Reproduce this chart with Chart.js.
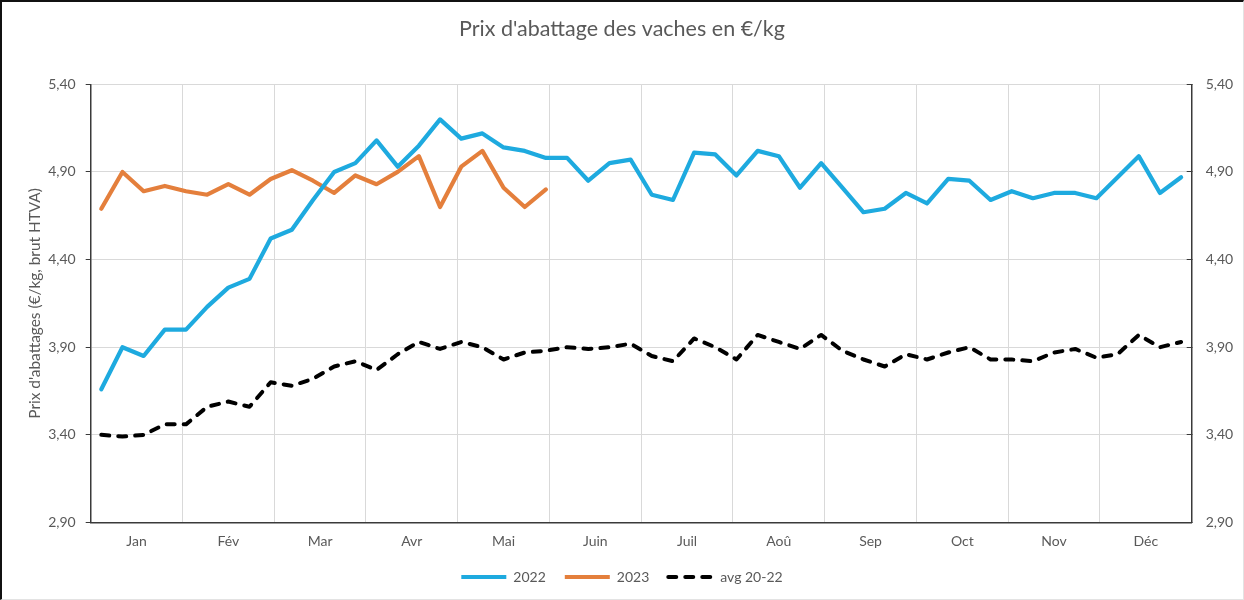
<!DOCTYPE html>
<html>
<head>
<meta charset="utf-8">
<script src="https://cdn.jsdelivr.net/npm/chart.js@4/dist/chart.umd.min.js"></script>
<style>
  html, body { margin: 0; padding: 0; background: #fff; }
  #wrap { position: relative; width: 1244px; height: 600px; }
  #frame { position: absolute; left: 0; top: 0; width: 1244px; height: 600px; box-sizing: border-box;
           border-left: 2px solid #111; border-top: 2px solid #111; border-right: 1px solid #e3e3e3; border-bottom: 1px solid #e3e3e3; pointer-events: none; }
  canvas { display: block; }
</style>
</head>
<body>
<div id="wrap">
  <canvas id="c" width="1244" height="600"></canvas>
  <div id="frame"></div>
</div>
<script>
const months = ['Jan', 'Fév', 'Mar', 'Avr', 'Mai', 'Juin', 'Juil', 'Aoû', 'Sep', 'Oct', 'Nov', 'Déc'];
const weeks = Array.from({length: 52}, (_, i) => i + 1);
const yTicks = [2.9, 3.4, 3.9, 4.4, 4.9, 5.4];

const price2022 = [3.66, 3.90, 3.85, 4.00, 4.00, 4.13, 4.24, 4.29, 4.52, 4.57,
                   4.74, 4.90, 4.95, 5.08, 4.93, 5.05, 5.20, 5.09, 5.12, 5.04,
                   5.02, 4.98, 4.98, 4.85, 4.95, 4.97, 4.77, 4.74, 5.01, 5.00,
                   4.88, 5.02, 4.99, 4.81, 4.95, 4.81, 4.67, 4.69, 4.78, 4.72,
                   4.86, 4.85, 4.74, 4.79, 4.75, 4.78, 4.78, 4.75, 4.87, 4.99,
                   4.78, 4.87];
const price2023 = [4.69, 4.90, 4.79, 4.82, 4.79, 4.77, 4.83, 4.77, 4.86, 4.91,
                   4.85, 4.78, 4.88, 4.83, 4.90, 4.99, 4.70, 4.93, 5.02, 4.81,
                   4.70, 4.80];
const avg2022 = [3.40, 3.39, 3.40, 3.46, 3.46, 3.56, 3.59, 3.56, 3.70, 3.68,
                 3.72, 3.79, 3.82, 3.77, 3.86, 3.93, 3.89, 3.93, 3.90, 3.83,
                 3.87, 3.88, 3.90, 3.89, 3.90, 3.92, 3.85, 3.82, 3.95, 3.90,
                 3.83, 3.97, 3.93, 3.89, 3.97, 3.88, 3.83, 3.79, 3.86, 3.83,
                 3.87, 3.90, 3.83, 3.83, 3.82, 3.87, 3.89, 3.84, 3.86, 3.97,
                 3.90, 3.93];

// week position expressed in months (axis runs 0..12)
const toPts = arr => arr.map((v, i) => ({ x: (weeks[i] - 0.5) * 12 / weeks.length, y: v }));

const FONT = 'Lato, "Open Sans", sans-serif';
const GREY = '#595959';
const AXIS = '#3a3a3a';
const GRID = '#d9d9d9';
const fmt = v => Number(v).toFixed(2).replace('.', ',');

new Chart(document.getElementById('c'), {
  type: 'line',
  data: {
    datasets: [
      { label: '2022', data: toPts(price2022), borderColor: '#1eaadf', backgroundColor: '#1eaadf',
        borderWidth: 4.2, pointRadius: 0, tension: 0, borderJoinStyle: 'round', borderCapStyle: 'round', yAxisID: 'y' },
      { label: '2023', data: toPts(price2023), borderColor: '#e47f3c', backgroundColor: '#e47f3c',
        borderWidth: 4.2, pointRadius: 0, tension: 0, borderJoinStyle: 'round', borderCapStyle: 'round', yAxisID: 'y' },
      { label: 'avg 20-22', data: toPts(avg2022), borderColor: '#000000', backgroundColor: '#000000',
        borderWidth: 4, borderDash: [8, 9], borderCapStyle: 'round', borderJoinStyle: 'round',
        pointRadius: 0, tension: 0, yAxisID: 'y' }
    ]
  },
  options: {
    responsive: false,
    animation: false,
    events: [],
    layout: { padding: { top: 0, left: 0, right: 0, bottom: 6 } },
    plugins: {
      title: {
        display: true,
        text: "Prix d'abattage des vaches en €/kg",
        color: GREY,
        font: { family: FONT, size: 21.5, weight: 'normal' },
        padding: { top: 16, bottom: 42.5 }
      },
      legend: {
        display: true,
        position: 'bottom',
        labels: {
          color: GREY,
          font: { family: FONT, size: 14 },
          usePointStyle: true,
          pointStyle: 'line',
          pointStyleWidth: 45,
          padding: 19,
          generateLabels: chart => {
            const items = Chart.defaults.plugins.legend.labels.generateLabels(chart);
            items.forEach(it => {
              const ds = chart.data.datasets[it.datasetIndex];
              it.lineDash = ds.borderDash || [];
              it.lineCap = ds.borderDash ? 'round' : 'butt';
              it.lineWidth = ds.borderWidth;
            });
            return items;
          }
        }
      },
      tooltip: { enabled: false }
    },
    scales: {
      x: {
        type: 'linear',
        position: 'bottom',
        min: 0,
        max: 12,
        afterBuildTicks: s => { s.ticks = months.map((m, k) => ({ value: k + 0.5 })); },
        afterFit: s => { s.height = 28.5; },
        ticks: {
          autoSkip: false, maxRotation: 0, padding: 11,
          color: GREY, font: { family: FONT, size: 14 },
          callback: (v, i) => months[i]
        },
        grid: { display: true, offset: true, color: GRID, lineWidth: 1, drawTicks: false },
        border: { display: true, color: AXIS, width: 1.5 }
      },
      y: {
        type: 'linear',
        position: 'left',
        min: 2.9,
        max: 5.4,
        afterBuildTicks: s => { s.ticks = yTicks.map(v => ({ value: v })); },
        afterFit: s => { s.width = 90.7; },
        ticks: { color: GREY, font: { family: FONT, size: 14 }, padding: 10, callback: v => fmt(v) },
        grid: { color: GRID, lineWidth: 1, drawTicks: true, tickLength: 5, tickColor: AXIS },
        border: { display: true, color: AXIS, width: 1.5 },
        title: {
          display: true,
          text: "Prix d'abattages (€/kg, brut HTVA)",
          color: GREY,
          font: { family: FONT, size: 15.4 },
          padding: { top: 26, bottom: 0 }
        }
      },
      y2: {
        type: 'linear',
        position: 'right',
        min: 2.9,
        max: 5.4,
        afterBuildTicks: s => { s.ticks = yTicks.map(v => ({ value: v })); },
        afterFit: s => { s.width = 52.3; },
        ticks: { color: GREY, font: { family: FONT, size: 14 }, padding: 19, callback: v => fmt(v) },
        grid: { drawOnChartArea: false, drawTicks: true, tickLength: -5, tickColor: AXIS, color: GRID },
        border: { display: true, color: AXIS, width: 1.5 }
      }
    }
  }
});
</script>
</body>
</html>
